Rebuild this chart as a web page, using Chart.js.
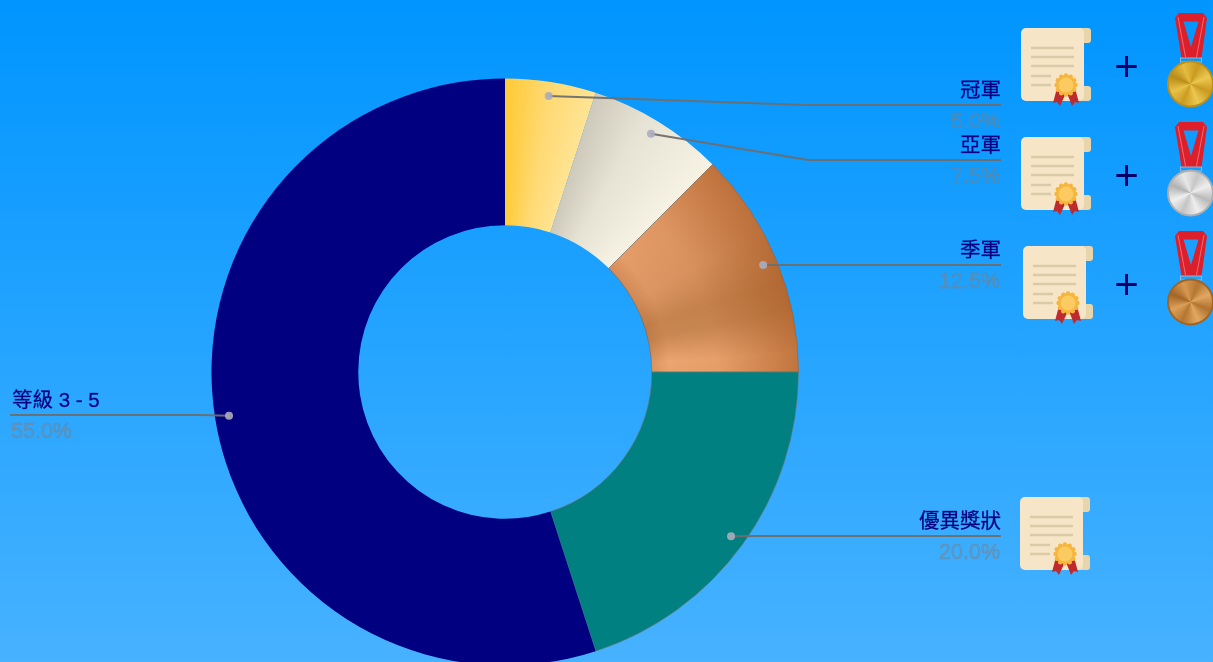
<!DOCTYPE html>
<html>
<head>
<meta charset="utf-8">
<title>獎項比例</title>
<script src="https://cdn.jsdelivr.net/npm/chart.js@4"></script>
<style>
html,body{margin:0;padding:0;width:1213px;height:662px;overflow:hidden;background:linear-gradient(#0095ff,#47b2ff);}
canvas{display:block;}
</style>
</head>
<body>
<canvas id="mycanvas" width="1213" height="700"></canvas>
<script>
var categories = ["冠軍", "亞軍", "季軍", "優異獎狀", "等級 3 - 5"];
var values = [5.0, 7.5, 12.5, 20.0, 55.0];
var sliceColors = ["#ffd75f", "#e6e3d3", "#d08a58", "#008080", "#000080"];
var sliceBorders = ["rgba(0,0,0,0)", "rgba(0,0,0,0)", "rgba(120,90,70,0.5)", "rgba(120,120,120,0.6)", "rgba(0,0,0,0)"];

// where each label's leader line runs to: elbow x, line y, end x
var leaderElbowX = [805, 808, 790, 760, 200];
var leaderY = [105, 160, 265, 536, 415];
var leaderEndX = [1001, 1001, 1001, 1001, 10];

// icons: certificates and medals beside the labels
var certX = [1021, 1021, 1023, 1020];
var certY = [28, 137, 246, 497];
var medalY = [13, 122, 231];
var plusY = [66, 175, 284];
var medalColors = [
	["#c99a20", "#ecc850", "#cc9c22", "#e8c248", "#b98c18", "#e4bc40", "#c99a20", "#ecc850", "#c99a20"],
	["#bababa", "#eeeeee", "#c4c4c4", "#f0f0f0", "#b2b2b2", "#e8e8e8", "#c6c6c6", "#eeeeee", "#bababa"],
	["#b07230", "#e2a862", "#b47632", "#dea058", "#a26626", "#d89852", "#b47632", "#e2a862", "#b07230"]
];
var medalRims = ["#c08f18", "#aeaeae", "#a06424"];
var FONT = '"Liberation Sans","Noto Sans CJK TC",sans-serif';

function drawCert(ctx, x, y) {
	ctx.save();
	ctx.translate(x, y);
	// curled ends
	ctx.fillStyle = "#e8d5ac";
	ctx.beginPath(); ctx.roundRect(50, 0, 20, 15, 3); ctx.fill();
	ctx.beginPath(); ctx.roundRect(50, 58, 20, 15, 3); ctx.fill();
	// paper
	ctx.fillStyle = "#f6e6c7";
	ctx.beginPath(); ctx.roundRect(0, 0, 63, 73, 5); ctx.fill();
	// text lines
	ctx.fillStyle = "#d9caa8";
	[20, 29, 38].forEach(function (ly) { ctx.fillRect(10, ly - 1.25, 43, 2.5); });
	[48, 57].forEach(function (ly) { ctx.fillRect(10, ly - 1.25, 20, 2.5); });
	// ribbons
	ctx.fillStyle = "#bf2a2e";
	ctx.beginPath();
	ctx.moveTo(36, 60); ctx.lineTo(45, 65); ctx.lineTo(39, 78); ctx.lineTo(36, 74); ctx.lineTo(32, 75);
	ctx.closePath(); ctx.fill();
	ctx.beginPath();
	ctx.moveTo(54, 60); ctx.lineTo(46, 65); ctx.lineTo(51, 78); ctx.lineTo(54, 74); ctx.lineTo(58, 75);
	ctx.closePath(); ctx.fill();
	// seal with a scalloped edge
	ctx.fillStyle = "#f6b63e";
	for (var k = 0; k < 12; k++) {
		var a = k * Math.PI / 6;
		ctx.beginPath();
		ctx.arc(45 + Math.cos(a) * 9.5, 57 + Math.sin(a) * 9.5, 2.2, 0, Math.PI * 2);
		ctx.fill();
	}
	ctx.beginPath(); ctx.arc(45, 57, 10, 0, Math.PI * 2); ctx.fill();
	ctx.fillStyle = "#fbca60";
	ctx.beginPath(); ctx.arc(45, 57, 7.5, 0, Math.PI * 2); ctx.fill();
	ctx.restore();
}

function drawMedal(ctx, y, colors, rim) {
	var x = 1167;
	ctx.save();
	ctx.translate(x, y);
	// ribbon
	ctx.fillStyle = "#dc1f2b";
	ctx.beginPath();
	ctx.moveTo(8, 5); ctx.lineTo(12, 0); ctx.lineTo(36, 0); ctx.lineTo(40, 5);
	ctx.lineTo(34.5, 45); ctx.lineTo(14.5, 45);
	ctx.closePath();
	ctx.moveTo(16.5, 8.5); ctx.lineTo(24, 34); ctx.lineTo(31.5, 8.5);
	ctx.closePath();
	ctx.fill("evenodd");
	ctx.strokeStyle = "rgba(255,190,190,0.55)";
	ctx.lineWidth = 0.9;
	ctx.beginPath();
	ctx.moveTo(11, 4); ctx.lineTo(18.5, 44);
	ctx.moveTo(37, 4); ctx.lineTo(29.5, 44);
	ctx.stroke();
	// ring
	ctx.strokeStyle = "#8fb8d4";
	ctx.lineWidth = 1;
	ctx.strokeRect(13.5, 45, 21, 4);
	// disc
	var grad = ctx.createConicGradient(0.4, 23.5, 71);
	colors.forEach(function (c, i) { grad.addColorStop(i / (colors.length - 1), c); });
	ctx.fillStyle = rim;
	ctx.beginPath(); ctx.arc(23.5, 71, 23.5, 0, Math.PI * 2); ctx.fill();
	ctx.fillStyle = grad;
	ctx.beginPath(); ctx.arc(23.5, 71, 21.5, 0, Math.PI * 2); ctx.fill();
	ctx.restore();
}

// gradients for the three top places, the rest are flat
function sliceFill(context) {
	var chart = context.chart;
	var i = context.dataIndex;
	var area = chart.chartArea;
	if (!area || i > 2) return sliceColors[i];
	var cx = (area.left + area.right) / 2;
	var cy = (area.top + area.bottom) / 2;
	var g = chart.ctx.createConicGradient(-Math.PI / 2, cx, cy);
	if (i == 0) {
		g.addColorStop(0, "#ffca35");
		g.addColorStop(0.025, "#ffda74");
		g.addColorStop(0.05, "#ffe494");
	} else if (i == 1) {
		g.addColorStop(0.05, "#cdcabb");
		g.addColorStop(0.08, "#e6e3d4");
		g.addColorStop(0.125, "#f6f3e5");
	} else {
		g.addColorStop(0.125, "#e59c68");
		g.addColorStop(0.17, "#dc9663");
		g.addColorStop(0.2, "#c6844f");
		g.addColorStop(0.215, "#c98853");
		g.addColorStop(0.24, "#eca570");
		g.addColorStop(0.25, "#eba26c");
	}
	return g;
}

var decorPlugin = {
	id: "decor",
	afterDatasetsDraw: function (chart) {
		var ctx = chart.ctx;
		var arcs = chart.getDatasetMeta(0).data;

		// darker outer rim on the bronze slice
		var b = arcs[2];
		var rim = ctx.createRadialGradient(b.x, b.y, b.innerRadius, b.x, b.y, b.outerRadius);
		rim.addColorStop(0, "rgba(160,80,30,0.2)");
		rim.addColorStop(0.12, "rgba(160,80,30,0)");
		rim.addColorStop(0.45, "rgba(165,85,30,0.08)");
		rim.addColorStop(1, "rgba(165,85,30,0.6)");
		ctx.save();
		ctx.fillStyle = rim;
		ctx.beginPath();
		ctx.arc(b.x, b.y, b.outerRadius, b.startAngle, b.endAngle);
		ctx.arc(b.x, b.y, b.innerRadius, b.endAngle, b.startAngle, true);
		ctx.closePath();
		ctx.fill();
		ctx.restore();

		// leader lines, dots, labels
		arcs.forEach(function (arc, i) {
			var mid = (arc.startAngle + arc.endAngle) / 2;
			var r = arc.outerRadius * 0.952;
			var px = arc.x + Math.cos(mid) * r;
			var py = arc.y + Math.sin(mid) * r;
			ctx.save();
			ctx.strokeStyle = "rgba(110,110,110,0.95)";
			ctx.lineWidth = 2;
			ctx.beginPath();
			ctx.moveTo(px, py);
			ctx.lineTo(leaderElbowX[i], leaderY[i]);
			ctx.lineTo(leaderEndX[i], leaderY[i]);
			ctx.stroke();
			ctx.fillStyle = "rgba(172,172,190,0.9)";
			ctx.beginPath();
			ctx.arc(px, py, 4, 0, Math.PI * 2);
			ctx.fill();

			var left = leaderEndX[i] < arc.x;
			var tx = left ? 12 : 1001;
			ctx.textAlign = left ? "left" : "right";
			ctx.textBaseline = "alphabetic";
			ctx.font = "20.5px " + FONT;
			ctx.fillStyle = "#000080";
			ctx.strokeStyle = "rgba(0,0,128,0.6)";
			ctx.lineWidth = 0.4;
			ctx.fillText(categories[i], tx, leaderY[i] - 8);
			ctx.strokeText(categories[i], tx, leaderY[i] - 8);
			ctx.font = "21.5px " + FONT;
			var pct = values[i].toFixed(1) + "%";
			var py2 = leaderY[i] + 23;
			ctx.fillStyle = "rgba(128,128,128,0.3)";
			ctx.strokeStyle = "rgba(125,125,125,0.7)";
			ctx.lineWidth = 0.5;
			ctx.fillText(pct, left ? 11 : 1000, py2);
			ctx.strokeText(pct, left ? 11 : 1000, py2);
			ctx.restore();
		});

		// icons
		ctx.save();
		ctx.filter = "blur(0.4px)";
		certX.forEach(function (x, i) { drawCert(ctx, x, certY[i]); });
		medalY.forEach(function (y, i) { drawMedal(ctx, y, medalColors[i], medalRims[i]); });
		ctx.restore();
		ctx.save();
		ctx.fillStyle = "#000068";
		ctx.font = "42px " + FONT;
		ctx.textAlign = "center";
		ctx.textBaseline = "middle";
		plusY.forEach(function (y) { ctx.fillText("+", 1126.5, y + 3); });
		ctx.restore();
	}
};

var ctx = document.getElementById("mycanvas");
var chart = new Chart(ctx, {
	type: "doughnut",
	data: {
		labels: categories,
		datasets: [{
			data: values,
			backgroundColor: sliceFill,
			borderColor: sliceBorders,
			borderWidth: 1
		}]
	},
	options: {
		responsive: false,
		animation: false,
		cutout: "50%",
		events: [],
		layout: { padding: { left: 211, right: 414, top: 77, bottom: 33 } },
		plugins: { legend: { display: false }, tooltip: { enabled: false } }
	},
	plugins: [decorPlugin]
});
</script>
</body>
</html>
